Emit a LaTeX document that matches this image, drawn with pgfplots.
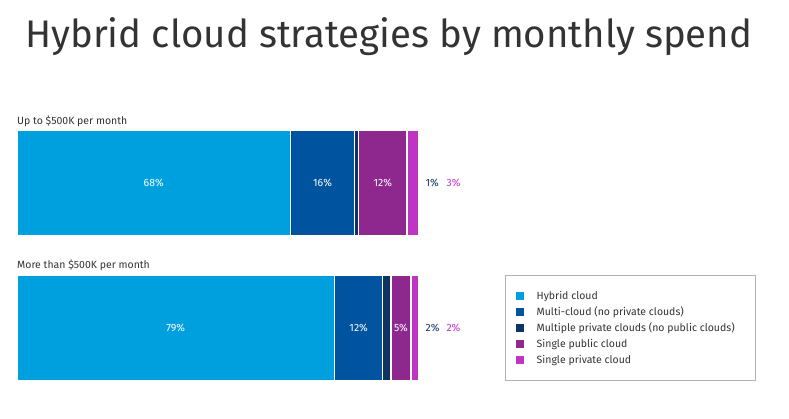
\documentclass[border=0pt]{standalone}
\usepackage{pgfplots}
\pgfplotsset{compat=1.18}
\usepackage{fontspec}
\setmainfont{Fira Sans}

\definecolor{cHyb}{RGB}{0,160,223}
\definecolor{cMulti}{RGB}{0,84,159}
\definecolor{cPriv}{RGB}{14,52,100}
\definecolor{cPub}{RGB}{142,40,142}
\definecolor{cSing}{RGB}{192,52,196}
\definecolor{txt}{RGB}{51,51,51}

\pgfplotsset{
  segment/.style={fill=#1, draw=white, line width=1.3pt},
  % white value in the middle of a segment
  inlabel/.style={point meta=rawx,
    nodes near coords={\pgfmathprintnumber[assume math mode=true]{\pgfplotspointmeta}\%},
    every node near coord/.append style={anchor=center, text=white,
      font=\fontsize{10.5}{12}\selectfont}},
}
\tikzset{lbl/.style={font=\fontsize{10.5}{12}\selectfont}}

\begin{document}
\begin{tikzpicture}
% page frame: 789 x 418, axis origin 17 from the left, 37 from the bottom
\useasboundingbox (-17pt,-37pt) rectangle (772pt,381pt);
\begin{axis}[
  scale only axis, width=402pt, height=251pt,
  xmin=0, xmax=100, ymin=0, ymax=251,
  hide axis, clip=false,
  xbar stacked, bar width=106pt,
  legend cell align=left,
  legend image code/.code={\fill[#1,draw=none,overlay] (-9pt,-4pt) rectangle (-1pt,4pt);
    \path (0pt,0pt) -- (9pt,0pt);},
  legend style={at={(1.2139,0.4223)}, anchor=north west,
    draw=gray!60, line width=0.8pt, text=txt,
    font=\fontsize{10.5}{12}\selectfont,
    inner xsep=19pt, inner ysep=13.5pt, row sep=2pt},
]
\addplot[segment=cHyb, inlabel]   coordinates {(68,198) (79,53)};
\addlegendentry{Hybrid cloud}
\addplot[segment=cMulti, inlabel] coordinates {(16,198) (12,53)};
\addlegendentry{Multi-cloud (no private clouds)}
\addplot[segment=cPriv]  coordinates {(1,198)  (2,53)};
\addlegendentry{Multiple private clouds (no public clouds)}
\addplot[segment=cPub, inlabel]   coordinates {(12,198) (5,53)};
\addlegendentry{Single public cloud}
\addplot[segment=cSing]  coordinates {(3,198)  (2,53)};
\addlegendentry{Single private cloud}

% values of the narrow segments, set beside the bars
\node[lbl, cPriv, anchor=west, inner sep=0pt] at (axis cs:101.6,198) {1\%};
\node[lbl, cSing, anchor=west, inner sep=0pt] at (axis cs:106.8,198) {3\%};
\node[lbl, cPriv, anchor=west, inner sep=0pt] at (axis cs:101.6,53) {2\%};
\node[lbl, cSing, anchor=west, inner sep=0pt] at (axis cs:106.8,53) {2\%};

\node[lbl, txt, anchor=base west, inner sep=0pt] at (axis cs:0,256) {Up to \$500K per month};
\node[lbl, txt, anchor=base west, inner sep=0pt] at (axis cs:0,113) {More than \$500K per month};
\end{axis}
\node[txt, anchor=base west, inner sep=0pt, font=\fontsize{38.4}{44}\selectfont] at (8pt,333pt) {Hybrid cloud strategies by monthly spend};
\end{tikzpicture}
\end{document}
